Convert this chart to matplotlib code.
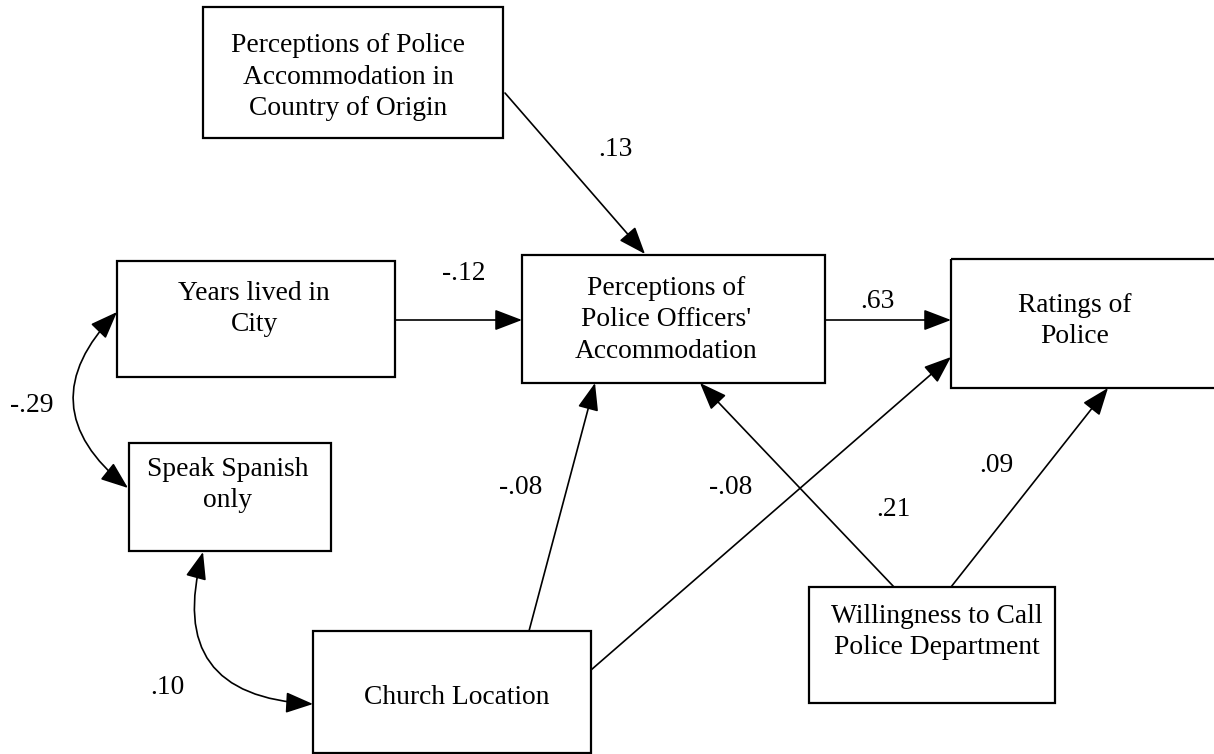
import matplotlib
matplotlib.use("Agg")
import matplotlib.pyplot as plt
from matplotlib.patches import Rectangle, FancyArrowPatch

# ---- data ----
node_names = ["origin", "years", "spanish", "officers", "ratings", "church", "willing"]
node_labels = [
    "Perceptions of Police\nAccommodation in\nCountry of Origin",
    "Years lived in\nCity",
    "Speak Spanish\nonly",
    "Perceptions of\nPolice Officers'\nAccommodation",
    "Ratings of\nPolice",
    "Church Location",
    "Willingness to Call\nPolice Department",
]
path_from = ["origin", "years", "officers", "church", "church", "willing", "willing"]
path_to = ["officers", "officers", "ratings", "officers", "ratings", "officers", "ratings"]
path_coef = [".13", "-.12", ".63", "-.08", "-.08", ".21", ".09"]
corr_pairs = [("years", "spanish"), ("spanish", "church")]
corr_coef = ["-.29", ".10"]

# ---- layout (pixel coords, y down) ----
boxes = {  # x0, y0, x1, y1
    "origin": (203, 7, 503, 138),
    "years": (117, 261, 395, 377),
    "spanish": (129, 443, 331, 551),
    "officers": (522, 255, 825, 383),
    "ratings": (951, 259, 1240, 388),
    "church": (313, 631, 591, 753),
    "willing": (809, 587, 1055, 703),
}
text_pos = {
    "origin": (348, 77), "years": (254, 309), "spanish": (228, 485),
    "officers": (666, 320), "ratings": (1075, 321), "church": (457, 698),
    "willing": (937, 632),
}
path_pts = [
    ((505, 93), (645, 254)),
    ((395, 320), (522, 320)),
    ((825, 320), (951, 320)),
    ((529, 631), (595, 383)),
    ((591, 670), (951, 357)),
    ((894, 587), (700, 383)),
    ((951, 587), (1108, 388)),
]
path_lab_pos = [(615, 150), (464, 273), (877, 302), (521, 487), (731, 488), (893, 510), (996, 465)]
corr_pts = [((117, 312), (128, 488)), ((203, 552), (313, 704))]
corr_rad = [0.55, 0.62]
corr_lab_pos = [(32, 405), (167, 687)]

W, H = 1214, 754
fig = plt.figure(figsize=(W / 100, H / 100), dpi=100)
ax = fig.add_axes([0, 0, 1, 1])
ax.set_xlim(0, W)
ax.set_ylim(H, 0)
ax.axis("off")

font = dict(family=["Liberation Serif", "DejaVu Serif"], fontsize=19.8, color="black")

for name, label in zip(node_names, node_labels):
    x0, y0, x1, y1 = boxes[name]
    ax.add_patch(Rectangle((x0, y0), x1 - x0, y1 - y0, fill=False, lw=1.6, ec="black"))
    tx, ty = text_pos[name]
    ax.text(tx, ty, label, ha="center", va="center", linespacing=1.35, **font)

astyle = "-|>,head_length=17,head_width=6.5"
for (p0, p1), lab, lp in zip(path_pts, path_coef, path_lab_pos):
    ax.add_patch(FancyArrowPatch(p0, p1, arrowstyle=astyle, mutation_scale=1,
                                 lw=1.2, color="black", shrinkA=0, shrinkB=0))
    ax.text(lp[0], lp[1], lab, ha="center", va="center", **font)

dstyle = "<|-|>,head_length=17,head_width=6.5"
for (p0, p1), rad, lab, lp in zip(corr_pts, corr_rad, corr_coef, corr_lab_pos):
    ax.add_patch(FancyArrowPatch(p0, p1, arrowstyle=dstyle, mutation_scale=1,
                                 connectionstyle=f"arc3,rad={rad}",
                                 lw=1.2, color="black", shrinkA=0, shrinkB=0))
    ax.text(lp[0], lp[1], lab, ha="center", va="center", **font)

fig.savefig("out.png", dpi=100, facecolor="white")
